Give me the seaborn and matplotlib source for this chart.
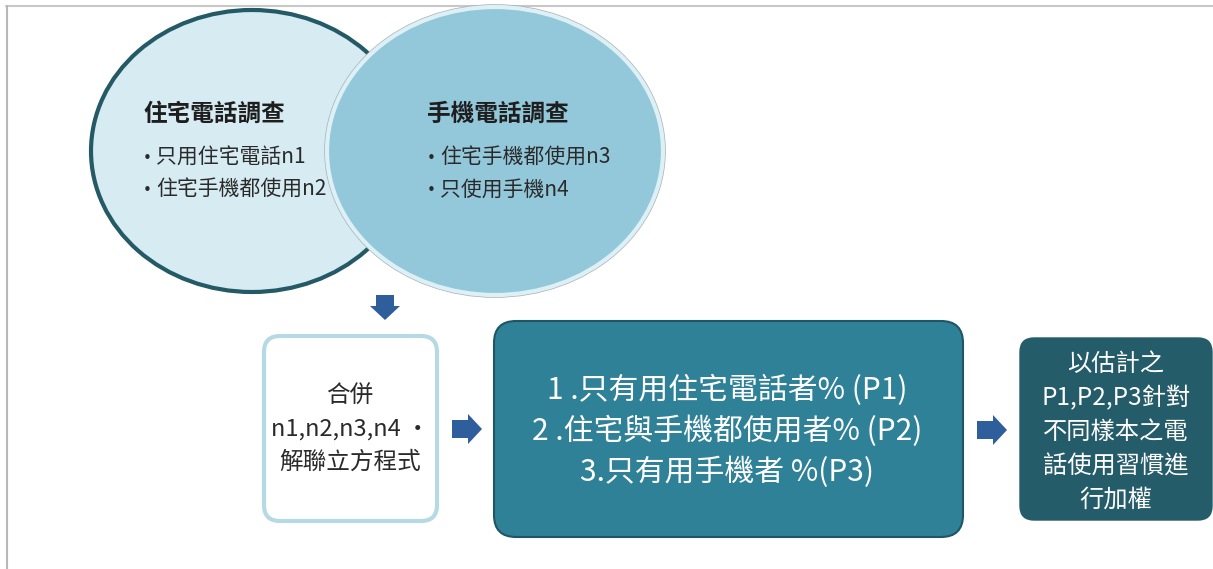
import matplotlib
matplotlib.use("Agg")
import matplotlib.pyplot as plt
import seaborn as sns
from matplotlib.patches import Ellipse, FancyBboxPatch, Polygon

sns.set_theme(style="white")
plt.rcParams["font.family"] = ["Noto Sans CJK TC", "DejaVu Sans"]

# diagram texts
home_title = "住宅電話調查"
home_items = ["只用住宅電話n1", "住宅手機都使用n2"]
mobile_title = "手機電話調查"
mobile_items = ["住宅手機都使用n3", "只使用手機n4"]
merge_lines = ["合併", "n1,n2,n3,n4 ·", "解聯立方程式"]
share_lines = ["1 .只有用住宅電話者% (P1)", "2 .住宅與手機都使用者% (P2)", "3.只有用手機者 %(P3)"]
weight_lines = ["以估計之", "P1,P2,P3針對", "不同樣本之電", "話使用習慣進", "行加權"]

W, H = 1213, 569
fig = plt.figure(figsize=(W / 100, H / 100), dpi=100)
ax = fig.add_axes([0, 0, 1, 1])
ax.set_xlim(0, W)
ax.set_ylim(H, 0)
ax.axis("off")

# frame lines
ax.plot([6, W], [5.5, 5.5], color="#c8c8c8", lw=1.5)
ax.plot([6.5, 6.5], [5.5, H], color="#b8b8b8", lw=1.5)

# circles
ax.add_patch(Ellipse((252, 151), 322, 282, facecolor="#d7ebf2", edgecolor="#245a66", lw=3, zorder=2))
ax.add_patch(Ellipse((495, 151), 336, 288, facecolor="none", edgecolor="#a8b2b5", lw=4, zorder=3))
ax.add_patch(Ellipse((495, 151), 336, 288, facecolor="#93c8da", edgecolor="#dcf0f6", lw=3, zorder=4))

text_col = "#2a2a2a"
ax.text(143, 114, home_title, fontsize=17, fontweight="bold", color="#1e1e1e", va="center", zorder=5)
for i, t in enumerate(home_items):
    ax.text(143, 158 + 32 * i, "•", fontsize=11, color=text_col, va="center", family="DejaVu Sans", zorder=5)
    ax.text(156, 158 + 32 * i, t, fontsize=15, color=text_col, va="center", zorder=5)
ax.text(427, 114, mobile_title, fontsize=17, fontweight="bold", color="#1e1e1e", va="center", zorder=5)
for i, t in enumerate(mobile_items):
    ax.text(427, 158 + 32 * i, "•", fontsize=11, color=text_col, va="center", family="DejaVu Sans", zorder=5)
    ax.text(440, 158 + 32 * i, t, fontsize=15, color=text_col, va="center", zorder=5)

arrow_col = "#2f5e9c"


def right_arrow(x0, yc):
    pts = [(x0, yc - 9), (x0 + 16, yc - 9), (x0 + 16, yc - 15), (x0 + 30, yc),
           (x0 + 16, yc + 15), (x0 + 16, yc + 9), (x0, yc + 9)]
    ax.add_patch(Polygon(pts, closed=True, facecolor=arrow_col, edgecolor="none", zorder=5))


# down arrow
xc = 385
pts = [(xc - 9, 295), (xc + 9, 295), (xc + 9, 306), (xc + 15, 306), (xc, 320),
       (xc - 15, 306), (xc - 9, 306)]
ax.add_patch(Polygon(pts, closed=True, facecolor=arrow_col, edgecolor="none", zorder=5))

# box 1
ax.add_patch(FancyBboxPatch((264, 336), 173, 185, boxstyle="round,pad=0,rounding_size=16",
                            facecolor="white", edgecolor="#b7d9e3", lw=3, zorder=3))
for i, t in enumerate(merge_lines):
    ax.text(350, 396 + 33 * i, t, fontsize=17, color=text_col, ha="center", va="center", zorder=5)

right_arrow(452, 429)

# box 2
ax.add_patch(FancyBboxPatch((494, 321), 469, 216, boxstyle="round,pad=0,rounding_size=22",
                            facecolor="#2f8197", edgecolor="#1f5566", lw=1.5, zorder=3))
for i, t in enumerate(share_lines):
    ax.text(727, 390 + 41 * i, t, fontsize=21.5, color="white", ha="center", va="center", zorder=5)

right_arrow(977, 430)

# box 3
ax.add_patch(FancyBboxPatch((1020, 338), 192, 182, boxstyle="round,pad=0,rounding_size=14",
                            facecolor="#245c69", edgecolor="#245c69", lw=1, zorder=3))
for i, t in enumerate(weight_lines):
    ax.text(1116, 364 + 34 * i, t, fontsize=17.5, fontweight="medium", color="white",
            ha="center", va="center", zorder=5)

fig.savefig("out.png", dpi=100)
